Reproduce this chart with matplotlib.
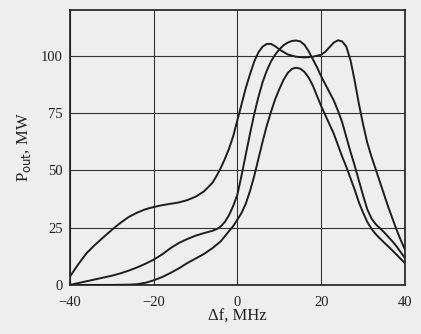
import matplotlib.pyplot as plt

# detuning, MHz and output power, MW
f_a = [-40, -38, -36, -34, -32, -30, -28, -26, -24, -22, -20, -18, -16, -14, -12, -10, -8,
       -6, -5, -4, -3, -2, -1, 0, 1, 2, 3, 4, 5, 6, 7, 8, 9, 10, 12, 14, 16, 18, 20, 21,
       22, 23, 24, 25, 26, 27, 28, 29, 30, 31, 32, 33, 34, 35, 36, 37, 38, 39, 40]
p_a = [3.6, 9, 13.9, 17.5, 20.8, 24, 27, 29.6, 31.5, 33, 34, 34.8, 35.4, 36, 37, 38.5, 40.8,
       44.5, 47.5, 51, 55, 59.5, 65, 72, 79, 86, 92, 97.5, 101.5, 104, 105.2, 105.2, 104.2,
       102.8, 100.6, 99.6, 99.3, 99.6, 100.5, 101.8, 103.8, 105.8, 106.8, 106.3, 104, 98,
       89, 79, 70, 62, 56, 50.5, 45, 39.5, 34, 29, 24, 19.5, 15.4]

f_b = [-40, -38, -36, -34, -32, -30, -28, -26, -24, -22, -20, -18, -16, -14, -12, -10, -8,
       -6, -5, -4, -3, -2, -1, 0, 1, 2, 3, 4, 5, 6, 7, 8, 9, 10, 11, 12, 13, 14, 15, 16,
       17, 18, 19, 20, 21, 22, 23, 24, 25, 26, 27, 28, 29, 30, 31, 32, 33, 34, 35, 36, 37,
       38, 39, 40]
p_b = [0, 0.8, 1.6, 2.4, 3.2, 4, 5, 6.2, 7.6, 9.2, 11, 13.3, 16, 18.3, 20, 21.5, 22.6,
       23.6, 24.3, 25.5, 27.5, 30.5, 34.5, 39.5, 48, 57, 66, 74.5, 82, 88.5, 93.5, 97.5,
       100.5, 102.8, 104.6, 105.8, 106.5, 106.7, 106.3, 104.8, 102, 98.5, 95, 91, 87.5, 84,
       80.5, 76, 71, 64.5, 58, 52, 45.5, 39, 33, 29, 26.5, 24.8, 23, 21, 19,
       16.8, 14.2, 11.7]

f_c = [-40, -30, -26, -24, -22, -20, -18, -16, -14, -12, -10, -8, -6, -4, -2, -1, 0, 1, 2,
       3, 4, 5, 6, 7, 8, 9, 10, 11, 12, 13, 14, 15, 16, 17, 18, 19, 20, 21, 22, 23, 24,
       25, 26, 27, 28, 29, 30, 31, 32, 33, 34, 35, 36, 37, 38, 39, 40]
p_c = [0, 0, 0.1, 0.3, 0.9, 2, 3.4, 5.2, 7.2, 9.5, 11.5, 13.5, 16, 19, 23.5, 25.7, 28.5,
       31.5, 35.5, 41, 47.5, 55, 62.5, 69.5, 75.5, 81, 85.5, 89.5, 92.5, 94.3, 94.8, 94.4,
       93, 90.5, 87, 82.5, 78, 74, 70, 66, 61, 56, 51.5, 46.5, 41.5, 36, 31.5, 27.5, 24.5,
       22.2, 20.3, 18.5, 16.8, 15, 13.2, 11.3, 9.5]

x_ticks = [-40, -20, 0, 20, 40]
y_ticks = [0, 25, 50, 75, 100]

plt.rcParams['font.family'] = ['Liberation Serif', 'DejaVu Serif']

fig = plt.figure(figsize=(4.21, 3.34), dpi=100, facecolor='#eeeeee')
ax = fig.add_axes([0.166, 0.147, 0.796, 0.823])
ax.set_facecolor('#eeeeee')

for f, p in [(f_a, p_a), (f_b, p_b), (f_c, p_c)]:
    ax.plot(f, p, color='#1e1e1e', lw=1.4, solid_joinstyle='round', solid_capstyle='round')

ax.set_xlim(-40, 40)
ax.set_ylim(0, 120)
ax.set_xticks(x_ticks)
ax.set_yticks(y_ticks)
ax.set_xticklabels(['\u221240', '\u221220', '0', '20', '40'])
ax.grid(True, color='#333333', lw=0.8)
ax.tick_params(length=0, labelsize=10.5, colors='#222222')
ax.tick_params(axis='x', pad=8)
ax.tick_params(axis='y', pad=5)
for s in ax.spines.values():
    s.set_linewidth(1.2)
    s.set_color('#1e1e1e')

ax.set_xlabel('\u0394f, MHz', fontsize=12, color='#222222', labelpad=0)
ax.set_ylabel('P$_{\\rm out}$, MW', fontsize=12, color='#222222', labelpad=6)

fig.savefig('out.png', dpi=100, facecolor=fig.get_facecolor())
